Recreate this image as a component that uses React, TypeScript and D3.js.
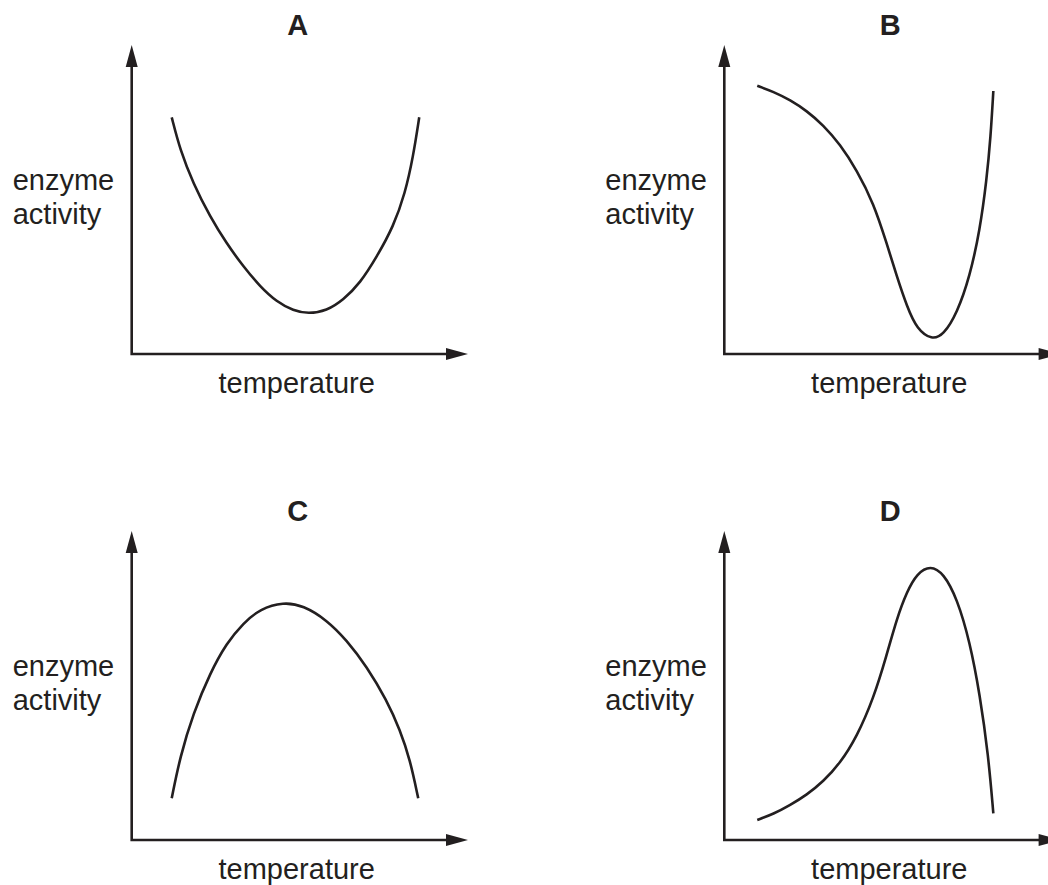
import { useEffect, useRef } from "react";
import * as d3 from "d3";

const panelLabels = ["A", "B", "C", "D"];
const xAxisLabel = "temperature";
const yAxisLabel = ["enzyme", "activity"];

// [temperature, enzyme activity], both in 0–100 axis units
const curveA: [number, number][] = [
  [11.9, 76.6], [14.4, 66.0], [18.3, 55.2], [23.3, 44.4], [28.2, 35.8],
  [33.2, 28.3], [38.2, 21.8], [43.1, 16.9], [48.1, 14.0], [52.5, 13.0],
  [58.0, 14.0], [62.9, 17.5], [67.9, 22.9], [72.9, 31.5], [77.8, 41.2],
  [81.3, 52.0], [83.7, 63.9], [85.5, 76.6]
];
const curveB: [number, number][] = [
  [9.8, 86.8], [14.6, 84.9], [19.6, 82.2], [24.5, 78.7], [29.4, 74.1],
  [34.4, 67.9], [39.4, 59.5], [44.4, 48.8], [48.3, 35.8], [51.3, 25.1],
  [54.3, 15.4], [57.3, 8.0], [61.7, 4.6], [65.2, 6.2], [69.2, 13.2],
  [73.0, 25.1], [76.0, 40.1], [78.0, 56.3], [79.2, 70.3], [80.0, 85.1]
];
const curveC: [number, number][] = [
  [11.9, 13.5], [14.4, 27.0], [18.3, 41.0], [23.3, 54.0], [28.2, 63.7],
  [33.2, 70.2], [38.2, 74.8], [45.1, 77.0], [51.0, 75.9], [58.0, 71.2],
  [63.9, 64.7], [69.9, 56.1], [75.8, 45.3], [79.8, 35.6], [82.8, 25.9],
  [85.2, 13.5]
];
const curveD: [number, number][] = [
  [9.8, 6.5], [14.6, 8.4], [19.6, 11.3], [24.5, 14.6], [29.4, 18.9],
  [34.4, 24.8], [39.4, 33.4], [44.4, 45.9], [48.3, 59.9], [51.3, 71.7],
  [54.3, 80.4], [57.3, 86.3], [61.3, 88.9], [65.2, 86.3], [69.2, 78.2],
  [73.0, 64.2], [76.0, 47.0], [78.5, 27.5], [80.0, 8.6]
];
const curves = [curveA, curveB, curveC, curveD];

export default function App() {
  const svgRef = useRef<SVGSVGElement>(null);

  useEffect(() => {
    if (!svgRef.current) return;
    const width = 1048;
    const height = 885;
    const ink = "#231f20";
    const font = "'Liberation Sans', Arial, Helvetica, sans-serif";

    const svg = d3.select(svgRef.current);
    svg.selectAll("*").remove();
    svg.attr("width", width).attr("height", height).attr("viewBox", `0 0 ${width} ${height}`);

    // axis origins of the four small plots
    const origins = [
      { x: 131.7, y: 354 },
      { x: 724.3, y: 354 },
      { x: 131.7, y: 840 },
      { x: 724.3, y: 840 }
    ];
    const axisW = 336.3;
    const axisH = 309;
    const head = 22;
    const halfHead = 6;

    const xScale = d3.scaleLinear().domain([0, 100]).range([0, axisW]);
    const yScale = d3.scaleLinear().domain([0, 100]).range([0, -axisH]);

    const line = d3.line<[number, number]>()
      .x(d => xScale(d[0]))
      .y(d => yScale(d[1]))
      .curve(d3.curveBasis);

    origins.forEach((o, i) => {
      const g = svg.append("g").attr("transform", `translate(${o.x},${o.y})`);

      // axes
      g.append("path")
        .attr("d", `M0,${-axisH + head - 2}V0H${axisW - head + 2}`)
        .attr("fill", "none")
        .attr("stroke", ink)
        .attr("stroke-width", 2.6)
        .attr("stroke-linejoin", "miter");

      // arrow heads
      g.append("path")
        .attr("d", `M0,${-axisH}L${halfHead},${-axisH + head}L${-halfHead},${-axisH + head}Z`)
        .attr("fill", ink);
      g.append("path")
        .attr("d", `M${axisW},0L${axisW - head},${-halfHead}L${axisW - head},${halfHead}Z`)
        .attr("fill", ink);

      // curve
      g.append("path")
        .datum(curves[i])
        .attr("d", line)
        .attr("fill", "none")
        .attr("stroke", ink)
        .attr("stroke-width", 2.6)
        .attr("stroke-linecap", "butt");

      // panel letter
      g.append("text")
        .attr("x", 166)
        .attr("y", -319)
        .attr("text-anchor", "middle")
        .attr("font-family", font)
        .attr("font-weight", "bold")
        .attr("font-size", "29px")
        .attr("fill", ink)
        .text(panelLabels[i]);

      // y label
      yAxisLabel.forEach((t, j) => {
        g.append("text")
          .attr("x", -119)
          .attr("y", -164 + j * 34)
          .attr("font-family", font)
          .attr("font-size", "29px")
          .attr("fill", ink)
          .text(t);
      });

      // x label
      g.append("text")
        .attr("x", 165)
        .attr("y", 39)
        .attr("text-anchor", "middle")
        .attr("font-family", font)
        .attr("font-size", "29px")
        .attr("fill", ink)
        .text(xAxisLabel);
    });
  }, []);

  return (
    <svg
      ref={svgRef}
      style={{ position: "absolute", left: 0, top: 0, background: "#fff" }}
    />
  );
}
